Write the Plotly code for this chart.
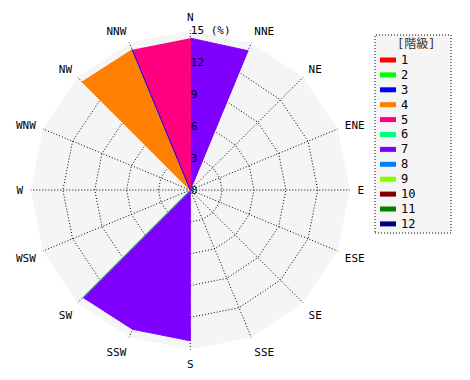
import plotly.graph_objects as go

# ---- data ----
directions = ["N", "NNE", "NE", "ENE", "E", "ESE", "SE", "SSE",
              "S", "SSW", "SW", "WSW", "W", "WNW", "NW", "NNW"]
class_labels = ["1", "2", "3", "4", "5", "6", "7", "8", "9", "10", "11", "12"]
class_colors = ["#ff0000", "#00ff00", "#0000ff", "#ff8000", "#ff0080", "#00ff80",
                "#8000ff", "#0080ff", "#80ff00", "#800000", "#008000", "#000080"]

# frequency (%) by direction for each class (N, NNE, ..., NNW)
c1 = [0, 0, 0, 0, 0, 0, 0, 0, 0, 0, 0, 0, 0, 0, 0, 0]
c2 = [0, 0, 0, 0, 0, 0, 0, 0, 0, 0, 0, 0, 0, 0, 0, 0]
c3 = [0, 0, 0, 0, 0, 0, 0, 0, 0, 0, 0, 0, 0, 0, 0, 14.3]
c4 = [0, 0, 0, 0, 0, 0, 0, 0, 0, 0, 0, 0, 0, 0, 14.4, 14.3]
c5 = [14.3, 0, 0, 0, 0, 0, 0, 0, 0, 0, 0, 0, 0, 0, 0, 14.3]
c6 = [0, 0, 0, 0, 0, 0, 0, 0, 0, 0, 14.3, 0, 0, 0, 0, 0]
c7 = [14.3, 14.2, 0, 0, 0, 0, 0, 0, 14.2, 14.2, 14.3, 0, 0, 0, 0, 0]
c8 = [0, 0, 0, 0, 0, 0, 0, 0, 0, 0, 0, 0, 0, 0, 0, 0]
c9 = [0, 0, 0, 0, 0, 0, 0, 0, 0, 0, 0, 0, 0, 0, 0, 0]
c10 = [0, 0, 0, 0, 0, 0, 0, 0, 0, 0, 0, 0, 0, 0, 0, 0]
c11 = [0, 0, 0, 0, 0, 0, 0, 0, 0, 0, 0, 0, 0, 0, 0, 0]
c12 = [0, 0, 0, 0, 0, 0, 0, 0, 0, 0, 0, 0, 0, 0, 0, 0]
class_values = [c1, c2, c3, c4, c5, c6, c7, c8, c9, c10, c11, c12]

radial_ticks = [0, 3, 6, 9, 12, 15]
radial_ticktext = ["0", "3", "6", "9", "12", "15 (%)"]
legend_title = "[階級]"

W, H = 470, 380
FONT = "DejaVu Sans Mono, Noto Sans CJK JP, monospace"
DOT = "1px,2px"

fig = go.Figure()

# draw in reverse order so lower classes appear on top
for i in reversed(range(len(class_labels))):
    vals = class_values[i]
    if max(vals) == 0:
        continue
    fig.add_trace(go.Scatterpolar(
        r=vals, theta=directions, mode="lines", fill="toself",
        fillcolor=class_colors[i], line=dict(color=class_colors[i], width=1),
        name=class_labels[i], showlegend=False, hoverinfo="skip",
    ))

cx, cy, R = 190.3, 190.0, 159.5
fig.update_layout(
    width=W, height=H,
    margin=dict(l=0, r=0, t=0, b=0),
    paper_bgcolor="white",
    font=dict(family=FONT, size=11, color="black"),
    polar=dict(
        domain=dict(x=[(cx - R) / W, (cx + R) / W], y=[1 - (cy + R) / H, 1 - (cy - R) / H]),
        gridshape="linear",
        bgcolor="#f5f5f5",
        radialaxis=dict(
            range=[0, 15.02], tickmode="array", tickvals=radial_ticks, ticktext=radial_ticktext,
            angle=90, tickangle=90, showline=False, ticks="", gridcolor="black", gridwidth=1,
            griddash=DOT, tickfont=dict(family=FONT, size=11, color="black"),
        ),
        angularaxis=dict(
            type="category", categoryorder="array", categoryarray=directions,
            rotation=90, direction="clockwise", showline=False,
            ticks="outside", ticklen=5, tickcolor="rgba(0,0,0,0)",
            gridcolor="black", gridwidth=1, griddash=DOT,
            tickfont=dict(family=FONT, size=11, color="black"),
        ),
    ),
)

# manual legend
shapes = [dict(type="rect", xref="paper", yref="paper",
               x0=375 / W, x1=451 / W, y0=1 - 233 / H, y1=1 - 35 / H,
               fillcolor="#f5f5f5", line=dict(color="black", width=1, dash=DOT), layer="below")]
annotations = [dict(xref="paper", yref="paper", x=416 / W, y=1 - 44 / H, text=legend_title,
                    showarrow=False, xanchor="center", yanchor="middle",
                    font=dict(family=FONT, size=12, color="#333333"))]
for i, lab in enumerate(class_labels):
    yc = 60 + 14.9 * i
    shapes.append(dict(type="rect", xref="paper", yref="paper",
                       x0=380 / W, x1=396 / W, y0=1 - (yc + 2.5) / H, y1=1 - (yc - 2.5) / H,
                       fillcolor=class_colors[i], line=dict(width=0)))
    annotations.append(dict(xref="paper", yref="paper", x=399 / W, y=1 - yc / H, text=lab,
                            showarrow=False, xanchor="left", yanchor="middle",
                            font=dict(family=FONT, size=12, color="black")))
fig.update_layout(shapes=shapes, annotations=annotations)

fig.write_html("out.html")
